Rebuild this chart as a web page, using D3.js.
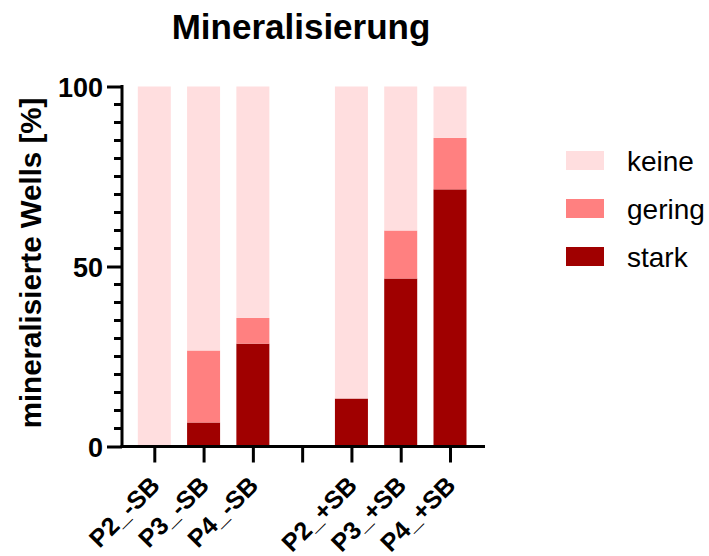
<!DOCTYPE html>
<html>
<head>
<meta charset="utf-8">
<script src="https://cdn.jsdelivr.net/npm/d3@7"></script>
<style>
  html, body { margin: 0; padding: 0; background: #fff; }
  text { font-family: "Liberation Sans", Arial, sans-serif; }
</style>
</head>
<body>
<svg id="chart" width="709" height="556"></svg>
<script>
const categories = ["P2_-SB", "P3_-SB", "P4_-SB", "", "P2_+SB", "P3_+SB", "P4_+SB"];
const stark  = [0, 6.67, 28.57, null, 13.33, 46.67, 71.43];
const gering = [0, 20.0, 7.14, null, 0, 13.33, 14.29];
const keine  = [100, 73.33, 64.29, null, 86.67, 40.0, 14.28];
const seriesNames = ["stark", "gering", "keine"];
const legendOrder = ["keine", "gering", "stark"];
const colors = { keine: "#FFDEDF", gering: "#FF8080", stark: "#A00000" };
const yTicks = [0, 50, 100];

const svg = d3.select("#chart");

const x = d3.scalePoint().domain(categories.map((c, i) => i)).range([154.3, 450]);
const y = d3.scaleLinear().domain([0, 100]).range([446.5, 86.5]);
const barW = 33;

// build stacked data
const rows = categories.map((c, i) => ({ i, cat: c, stark: stark[i] || 0, gering: gering[i] || 0, keine: keine[i] || 0, empty: stark[i] === null }));
const stack = d3.stack().keys(seriesNames)(rows.filter(r => !r.empty));

svg.append("g").selectAll("g").data(stack).join("g")
  .attr("fill", d => colors[d.key])
  .selectAll("rect").data(d => d).join("rect")
  .attr("x", d => x(d.data.i) - barW / 2)
  .attr("width", barW)
  .attr("y", d => y(d[1]))
  .attr("height", d => Math.max(0, y(d[0]) - y(d[1])));

// y axis
const yAxis = d3.axisLeft(y).tickValues(yTicks).tickSize(15).tickFormat(d3.format("d"));
const gy = svg.append("g").attr("transform", "translate(122,0)").call(yAxis);
gy.select(".domain").attr("stroke", "#000").attr("stroke-width", 3).attr("d", `M0,${y(0)+1.5}V${y(100)-1.5}`);
gy.selectAll(".tick line").attr("stroke", "#000").attr("stroke-width", 3);
gy.selectAll(".tick text").attr("x", -19).attr("dy", "0.36em")
  .style("font-family", "'Liberation Sans', Arial, sans-serif")
  .style("font-size", "27px").style("font-weight", "bold").attr("fill", "#000");
// minor ticks
const minor = d3.range(0, 101, 5).filter(v => !yTicks.includes(v));
svg.append("g").selectAll("line").data(minor).join("line")
  .attr("x1", 114).attr("x2", 122)
  .attr("y1", d => y(d)).attr("y2", d => y(d))
  .attr("stroke", "#000").attr("stroke-width", 3);

// x axis
const xAxis = d3.axisBottom(x).tickSize(16).tickFormat(() => "");
const gx = svg.append("g").attr("transform", `translate(0,${y(0)})`).call(xAxis);
gx.select(".domain").attr("stroke", "#000").attr("stroke-width", 3).attr("d", "M120.5,0H485");
gx.selectAll(".tick line").attr("stroke", "#000").attr("stroke-width", 3);

// x labels
svg.append("g").selectAll("text").data(rows.filter(r => r.cat !== "")).join("text")
  .attr("transform", d => `translate(${x(d.i) + 7},487) rotate(-45)`)
  .attr("text-anchor", "end")
  .style("font-size", "25px").style("font-weight", "bold")
  .text(d => d.cat);

// y label
svg.append("text")
  .attr("transform", "translate(41,263) rotate(-90)")
  .attr("text-anchor", "middle")
  .style("font-size", "29.5px").style("font-weight", "bold")
  .text("mineralisierte Wells [%]");

// title
svg.append("text")
  .attr("x", 301).attr("y", 39)
  .attr("text-anchor", "middle")
  .style("font-size", "35px").style("font-weight", "bold")
  .text("Mineralisierung");

// legend
const lg = svg.append("g").selectAll("g").data(legendOrder).join("g")
  .attr("transform", (d, i) => `translate(566,${151 + i * 48})`);
lg.append("rect").attr("width", 38).attr("height", 19).attr("fill", d => colors[d]);
lg.append("text").attr("x", 61).attr("y", 10).attr("dy", "0.36em")
  .style("font-size", "28px").text(d => d);
</script>
</body>
</html>
